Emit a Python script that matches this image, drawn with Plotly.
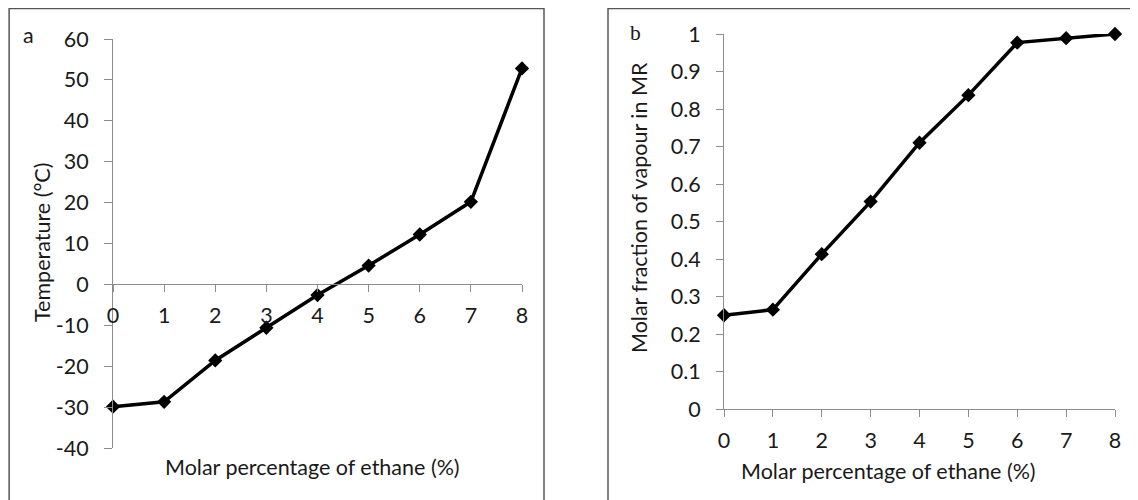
import plotly.graph_objects as go

# ---- data ----
ethane_pct = [0, 1, 2, 3, 4, 5, 6, 7, 8]
temperature_c = [-29.9, -28.7, -18.6, -10.6, -2.6, 4.6, 12.2, 20.2, 52.8]
vapour_fraction = [0.25, 0.265, 0.413, 0.553, 0.71, 0.837, 0.977, 0.989, 1.0]

x_title = "Molar percentage of ethane (%)"
ya_title = "Temperature (°C)"
yb_title = "Molar fraction of vapour in MR"
temp_ticks = [-40, -30, -20, -10, 0, 10, 20, 30, 40, 50, 60]
temp_labels = ["-40", "-30", "-20", "-10", "0", "10", "20", "30", "40", "50", "60"]
frac_ticks = [0, 0.1, 0.2, 0.3, 0.4, 0.5, 0.6, 0.7, 0.8, 0.9, 1]
frac_labels = ["0", "0.1", "0.2", "0.3", "0.4", "0.5", "0.6", "0.7", "0.8", "0.9", "1"]

W, H = 1138, 500
OFF = 8  # page body margin offsets the figure by 8px
FONT = "Lato"
TXT = "#1a1a1a"
AX = "#8c8c8c"
FS = 21.5

def px(x):
    return (x - OFF) / W

def py(y):
    return (H - (y - OFF)) / H

xa_dom = [px(113), px(522)]
ya_dom = [py(448), py(39)]
xb_dom = [px(724), px(1115)]
yb_dom = [py(409), py(34)]

ya_range = [-40, 60]
zero_pos = ya_dom[0] + (0 - ya_range[0]) / (ya_range[1] - ya_range[0]) * (ya_dom[1] - ya_dom[0])

fig = go.Figure()

line_style = dict(color="black", width=3.5)
marker_style = dict(symbol="diamond", size=11, color="black")

fig.add_trace(go.Scatter(x=ethane_pct, y=temperature_c, mode="lines+markers",
                         line=line_style, marker=marker_style, cliponaxis=False,
                         xaxis="x", yaxis="y", showlegend=False))
fig.add_trace(go.Scatter(x=ethane_pct, y=vapour_fraction, mode="lines+markers",
                         line=line_style, marker=marker_style, cliponaxis=False,
                         xaxis="x2", yaxis="y2", showlegend=False))

common_axis = dict(showgrid=False, zeroline=False, showline=True, linecolor=AX, linewidth=1,
                   ticks="outside", tickcolor=AX, tickwidth=1, automargin=False,
                   tickfont=dict(family=FONT, size=FS, color=TXT))

fig.update_layout(
    width=W, height=H, autosize=False,
    margin=dict(l=0, r=0, t=0, b=0, pad=0),
    paper_bgcolor="white", plot_bgcolor="white",
    xaxis=dict(domain=xa_dom, range=[0, 8], anchor="free", position=zero_pos,
               tickvals=ethane_pct, ticklen=7, ticklabelstandoff=5, **common_axis),
    yaxis=dict(domain=ya_dom, range=ya_range, anchor="x", tickvals=temp_ticks,
               ticktext=temp_labels, ticklen=8, ticklabelstandoff=11, **common_axis),
    xaxis2=dict(domain=xb_dom, range=[0, 8], anchor="y2",
                tickvals=ethane_pct, ticklen=7, ticklabelstandoff=5, **common_axis),
    yaxis2=dict(domain=yb_dom, range=[0, 1], anchor="x2", tickvals=frac_ticks,
                ticktext=frac_labels, ticklen=7, ticklabelstandoff=11, **common_axis),
)

# panel borders
border = dict(color="#555555", width=1.5)
fig.add_shape(type="rect", xref="paper", yref="paper", x0=0.001, x1=px(544),
              y0=-0.05, y1=0.999, line=border, layer="below")
fig.add_shape(type="rect", xref="paper", yref="paper", x0=px(608), x1=1.05,
              y0=-0.05, y1=0.999, line=border, layer="below")

tfont = dict(family=FONT, size=FS, color=TXT)
ann = [
    dict(text=x_title, x=px(312), y=py(467)),
    dict(text=x_title, x=px(888), y=py(471)),
    dict(text=ya_title, x=px(42), y=py(243), textangle=-90),
    dict(text=yb_title, x=px(639), y=py(208), textangle=-90),
]
for a in ann:
    fig.add_annotation(xref="paper", yref="paper", showarrow=False,
                       xanchor="center", yanchor="middle", font=tfont, **a)

fig.add_annotation(text="a", xref="paper", yref="paper", x=px(28), y=py(35),
                   showarrow=False, xanchor="center", yanchor="middle",
                   font=dict(family=FONT, size=FS, color=TXT))
fig.add_annotation(text="b", xref="paper", yref="paper", x=px(635), y=py(33),
                   showarrow=False, xanchor="center", yanchor="middle",
                   font=dict(family="Liberation Serif", size=FS, color=TXT))

fig.write_html("out.html")
